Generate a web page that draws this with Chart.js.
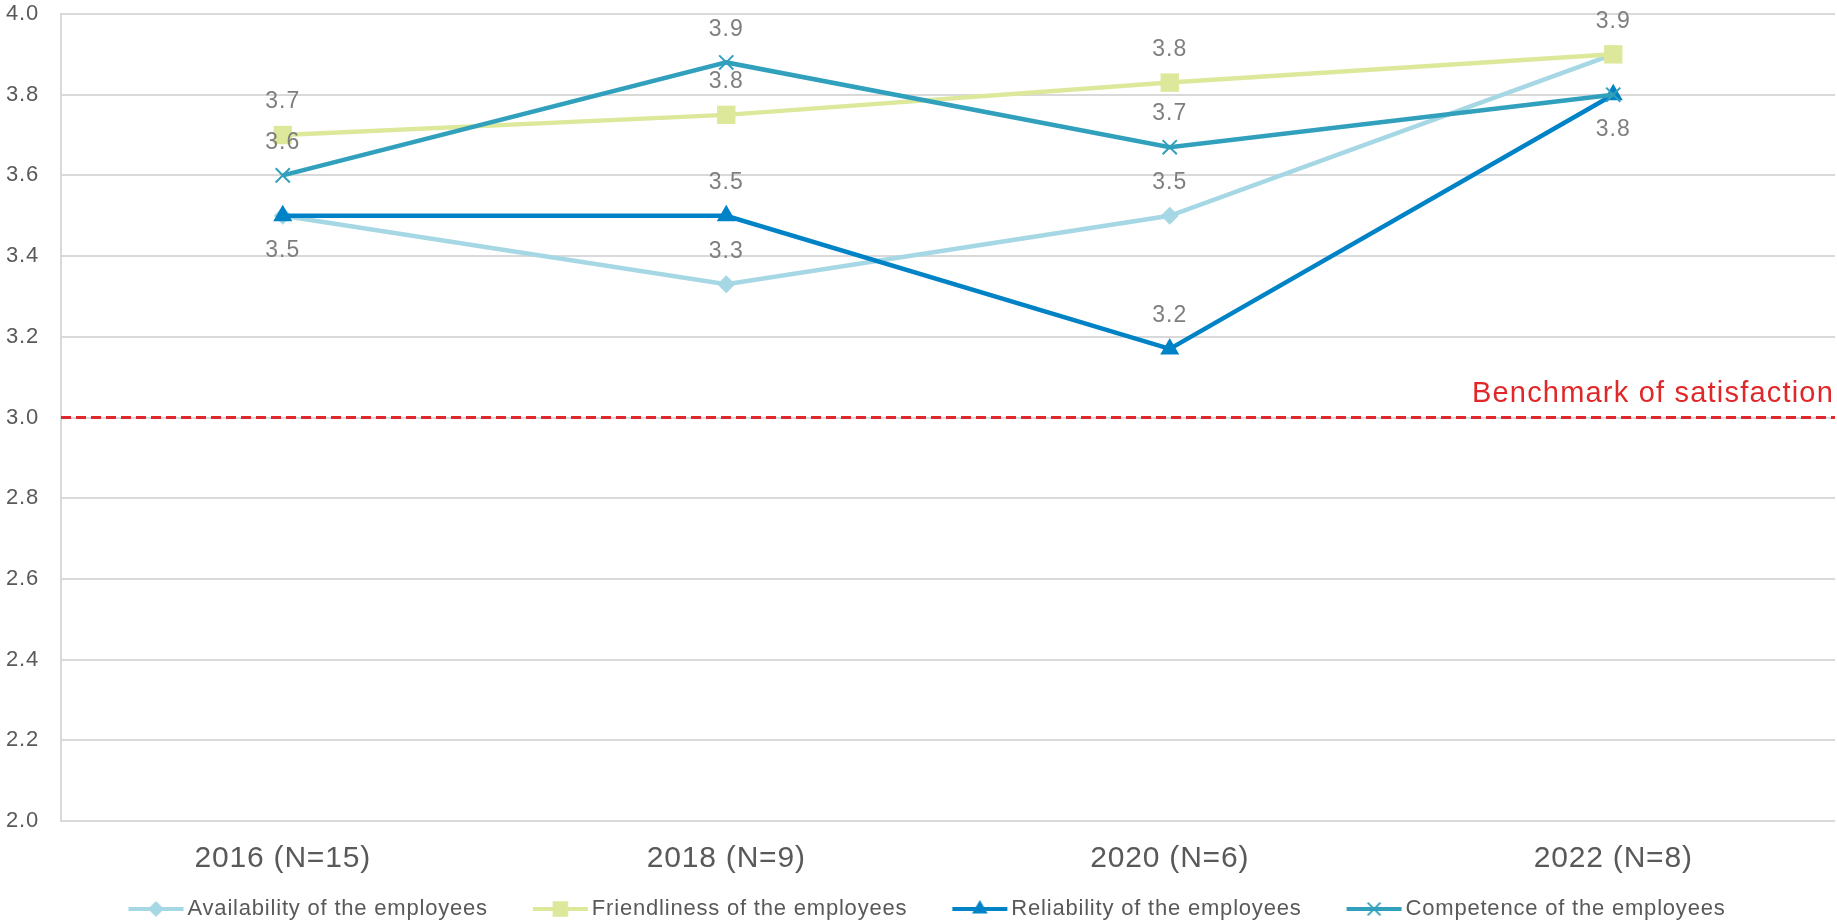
<!DOCTYPE html>
<html>
<head>
<meta charset="utf-8">
<title>Satisfaction with the employees</title>
<script src="https://cdn.jsdelivr.net/npm/chart.js@4.4.1/dist/chart.umd.min.js"></script>
<style>
  html, body { margin: 0; padding: 0; background: #fff; }
  #wrap { width: 1837px; height: 924px; }
</style>
</head>
<body>
<div id="wrap"><canvas id="satisfactionChart" width="1837" height="924"></canvas></div>
<script>
// ---- data ----
const years = ["2016 (N=15)", "2018 (N=9)", "2020 (N=6)", "2022 (N=8)"];
const availability = [3.5, 3.33, 3.5, 3.9];
const friendliness = [3.7, 3.75, 3.83, 3.9];
const reliability = [3.5, 3.5, 3.17, 3.8];
const competence = [3.6, 3.88, 3.67, 3.8];
const benchmark = 3.0;
const benchmarkLabel = "Benchmark of satisfaction";

const FONT = '"Liberation Sans", Arial, sans-serif';
const RED = "#E0282A";

// small line + marker picture for the legend
// (blank on the left = gap between items, overhangs the box a little on the right)
function legendIcon(color, style, r) {
    const c = document.createElement("canvas");
    c.width = 101;
    c.height = 24;
    const g = c.getContext("2d");
    g.strokeStyle = color;
    g.fillStyle = color;
    g.lineWidth = 4;
    g.beginPath();
    g.moveTo(45, 12);
    g.lineTo(100, 12);
    g.stroke();
    g.lineWidth = 2;
    Chart.helpers.drawPoint(g, { pointStyle: style, radius: r, borderWidth: style === "crossRot" ? 2 : 0 }, 72.5, 12);
    return c;
}

const datasets = [
    {
        label: "Availability of the employees",
        data: availability,
        color: "#A5D7E4",
        pointStyle: "rectRot", pointRadius: 9, legendR: 8,
        order: 4,
        labelPos: ["down", "up", "up", null]
    },
    {
        label: "Friendliness of the employees",
        data: friendliness,
        color: "#DDE89B",
        pointStyle: "rect", pointRadius: 13, legendR: 11,
        order: 3,
        labelPos: ["up", "up", "up", "up"]
    },
    {
        label: "Reliability of the employees",
        data: reliability,
        color: "#0083C6",
        pointStyle: "triangle", pointRadius: 11, legendR: 9,
        order: 2,
        labelPos: [null, "up", "up", "down"]
    },
    {
        label: "Competence of the employees",
        data: competence,
        color: "#31A0BC",
        pointStyle: "crossRot", pointRadius: 10, legendR: 9,
        order: 1,
        labelPos: ["up", "up", "up", null]
    }
].map(d => Object.assign(d, {
    borderColor: d.color,
    backgroundColor: d.color,
    pointBackgroundColor: d.color,
    pointBorderColor: d.color,
    pointBorderWidth: d.pointStyle === "crossRot" ? 2 : 0,
    pointHoverRadius: d.pointRadius,
    borderWidth: 4.5,
    tension: 0,
    fill: false
}));

const legendIcons = datasets.map(d => legendIcon(d.color, d.pointStyle, d.legendR));

// a little extra spacing between letters, like the original
const spacing = {
    id: "spacing",
    beforeLayout(chart) { chart.ctx.letterSpacing = "0.8px"; },
    beforeDraw(chart) { chart.ctx.letterSpacing = "0.8px"; }
};

// red dashed benchmark line
const benchmarkLine = {
    id: "benchmarkLine",
    beforeDatasetsDraw(chart) {
        const { ctx, chartArea } = chart;
        const y = chart.scales.y.getPixelForValue(benchmark);
        ctx.save();
        ctx.strokeStyle = RED;
        ctx.lineWidth = 3;
        ctx.setLineDash([10, 5]);
        ctx.beginPath();
        ctx.moveTo(chartArea.left, y);
        ctx.lineTo(chartArea.right, y);
        ctx.stroke();
        ctx.setLineDash([]);
        ctx.fillStyle = RED;
        ctx.font = "29px " + FONT;
        ctx.letterSpacing = "1.2px";
        ctx.textAlign = "right";
        ctx.textBaseline = "alphabetic";
        ctx.fillText(benchmarkLabel, chartArea.right - 1, y - 16);
        ctx.restore();
    }
};

// value labels over / under the points
const valueLabels = {
    id: "valueLabels",
    afterDatasetsDraw(chart) {
        const ctx = chart.ctx;
        ctx.save();
        ctx.font = "23px " + FONT;
        ctx.letterSpacing = "1px";
        ctx.fillStyle = "#7F7F7F";
        ctx.textAlign = "center";
        ctx.textBaseline = "middle";
        chart.data.datasets.forEach((ds, i) => {
            const meta = chart.getDatasetMeta(i);
            meta.data.forEach((pt, j) => {
                const pos = ds.labelPos[j];
                if (!pos) return;
                const y = pos === "up" ? pt.y - 33 : pt.y + 35;
                ctx.fillText(ds.data[j].toFixed(1), pt.x, y);
            });
        });
        ctx.restore();
    }
};

new Chart(document.getElementById("satisfactionChart"), {
    type: "line",
    data: {
        labels: years,
        datasets: datasets
    },
    options: {
        responsive: false,
        maintainAspectRatio: false,
        animation: false,
        // left is negative so the legend row sits a bit more to the left
        layout: { autoPadding: false, padding: { top: 14, right: 2, left: -18, bottom: -6 } },
        scales: {
            x: {
                offset: true,
                grid: { display: false, drawTicks: false },
                border: { display: false },
                ticks: {
                    color: "#595959",
                    font: { size: 30, family: FONT },
                    padding: 20,
                    maxRotation: 0,
                    autoSkip: false
                },
                afterFit(axis) {
                    axis.height = 69;
                    axis.paddingLeft = 0;
                    axis.paddingRight = 0;
                }
            },
            y: {
                min: 2,
                max: 4,
                grid: { color: "#D9D9D9", lineWidth: 2, drawTicks: false },
                border: { display: true, color: "#D9D9D9", width: 2 },
                ticks: {
                    stepSize: 0.2,
                    color: "#595959",
                    font: { size: 22, family: FONT },
                    padding: 22,
                    callback: v => Number(v).toFixed(1)
                },
                afterFit(axis) {
                    axis.width = 79;
                    axis.paddingTop = 0;
                    axis.paddingBottom = 0;
                }
            }
        },
        plugins: {
            tooltip: { enabled: false },
            legend: {
                position: "bottom",
                labels: {
                    usePointStyle: true,
                    pointStyleWidth: 85,
                    boxHeight: 22,
                    padding: 8,
                    color: "#595959",
                    font: { size: 22, family: FONT },
                    generateLabels(chart) {
                        const items = Chart.defaults.plugins.legend.labels.generateLabels(chart);
                        items.forEach(it => { it.pointStyle = legendIcons[it.datasetIndex]; });
                        return items;
                    },
                    sort: (a, b) => a.datasetIndex - b.datasetIndex
                }
            }
        }
    },
    plugins: [spacing, benchmarkLine, valueLabels]
});
</script>
</body>
</html>
